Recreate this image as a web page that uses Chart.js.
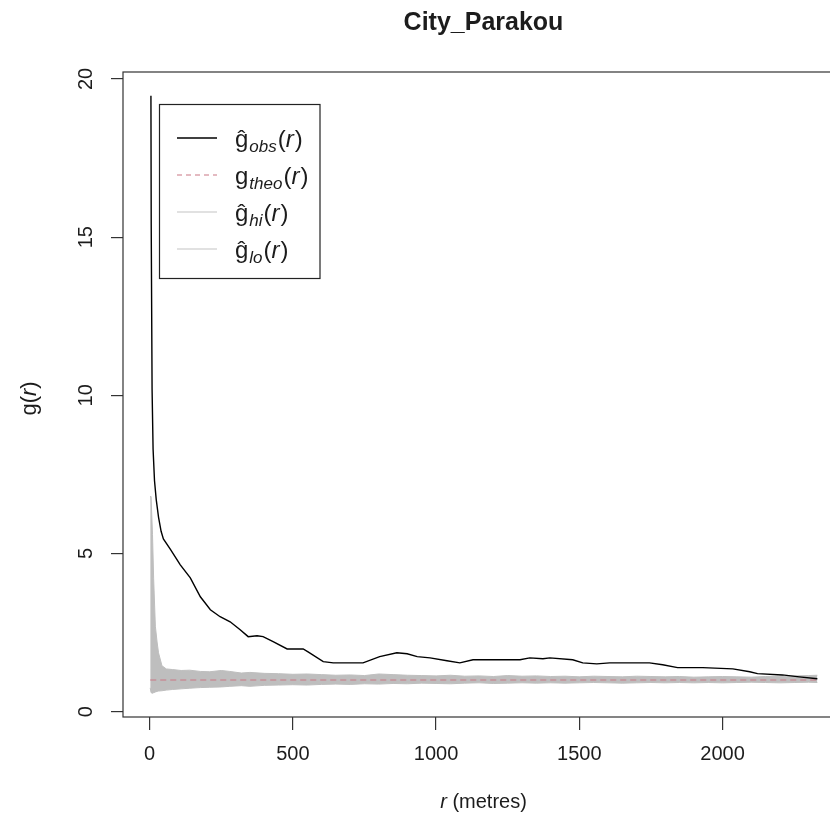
<!DOCTYPE html>
<html>
<head>
<meta charset="utf-8">
<title>City_Parakou</title>
<script src="https://cdn.jsdelivr.net/npm/chart.js@4.4.1/dist/chart.umd.min.js"></script>
<style>
  html, body { margin: 0; padding: 0; background: #fff; overflow: hidden; }
  #wrap { width: 860px; height: 819px; }
</style>
</head>
<body>
<div id="wrap"><canvas id="gChart" width="860" height="819"></canvas></div>
<script>
// pair correlation function g(r), observed vs. envelope
const chartTitle = 'City_Parakou';

const obsR = [4.5, 5.5, 8.5, 12, 17, 23, 31, 40, 48, 72, 107, 142, 177, 212, 246, 281, 316, 344, 375, 396,
  431, 480, 536, 553, 606, 641, 700, 745, 803, 863, 899, 934, 979, 1038, 1083, 1129, 1293, 1327, 1373, 1397,
  1477, 1512, 1561, 1606, 1745, 1791, 1843, 1931, 2036, 2095, 2122, 2209, 2268, 2331];
const obsG = [19.47, 15.4, 10.2, 8.3, 7.3, 6.7, 6.15, 5.7, 5.46, 5.14, 4.64, 4.23, 3.63, 3.22, 3.0, 2.84, 2.59, 2.37, 2.40, 2.37,
  2.21, 1.98, 1.98, 1.89, 1.58, 1.54, 1.54, 1.54, 1.74, 1.86, 1.83, 1.74, 1.70, 1.61, 1.54, 1.64, 1.64, 1.70, 1.67, 1.70,
  1.64, 1.54, 1.51, 1.54, 1.54, 1.48, 1.39, 1.39, 1.35, 1.26, 1.20, 1.16, 1.10, 1.04];

const theoR = [2, 2331];
const theoG = [1, 1];

const envR = [2, 5, 10, 14, 20, 26, 31, 43, 58, 80, 110, 140, 177, 210, 250, 280, 320, 350, 400, 450,
  500, 550, 600, 650, 700, 750, 800, 850, 900, 950, 1000, 1050, 1100, 1150, 1200, 1250, 1300, 1350, 1400, 1450,
  1500, 1550, 1600, 1650, 1700, 1750, 1800, 1850, 1900, 1950, 2000, 2050, 2100, 2150, 2200, 2250, 2300, 2331];
const envHi = [6.8, 6.8, 5.6, 4.2, 2.7, 2.2, 1.86, 1.45, 1.35, 1.33, 1.30, 1.31, 1.27, 1.26, 1.30, 1.27, 1.22, 1.24, 1.21, 1.20,
  1.18, 1.19, 1.17, 1.15, 1.16, 1.14, 1.19, 1.17, 1.15, 1.14, 1.13, 1.15, 1.12, 1.13, 1.11, 1.14, 1.12, 1.13, 1.11, 1.12,
  1.10, 1.12, 1.11, 1.10, 1.12, 1.11, 1.10, 1.11, 1.09, 1.10, 1.11, 1.10, 1.09, 1.11, 1.12, 1.13, 1.14, 1.15];
const envLo = [0.75, 0.60, 0.58, 0.60, 0.62, 0.64, 0.65, 0.66, 0.68, 0.70, 0.72, 0.74, 0.76, 0.77, 0.78, 0.80, 0.82, 0.80, 0.83, 0.84,
  0.85, 0.84, 0.86, 0.87, 0.86, 0.88, 0.87, 0.89, 0.88, 0.90, 0.89, 0.88, 0.90, 0.91, 0.89, 0.90, 0.91, 0.90, 0.91, 0.90,
  0.91, 0.92, 0.91, 0.90, 0.91, 0.92, 0.91, 0.92, 0.91, 0.92, 0.91, 0.92, 0.93, 0.92, 0.91, 0.92, 0.93, 0.92];

const xTicks = [0, 500, 1000, 1500, 2000];
const yTicks = [0, 5, 10, 15, 20];
const xLabel = ['r', ' (metres)'];
const yLabel = ['g', '(', 'r', ')'];

// legend rows: main symbol, subscript, line colour, dashed?
const legendMain = ['\u011D', 'g', '\u011D', '\u011D'];
const legendSub = ['obs', 'theo', 'hi', 'lo'];
const legendColor = ['#000000', '#c97683', '#c4c4c4', '#c4c4c4'];
const legendDash = [false, true, false, false];

const FONT = '"Liberation Sans", Arial, Helvetica, sans-serif';
const TEXT = '#1c1c1c';
const BAND = '#bebebe';

const zip = (xs, ys) => xs.map((x, i) => ({ x: x, y: ys[i] }));

// draw a run of text pieces with their own fonts, centred on x
function drawRuns(ctx, runs, x, y) {
  let total = 0;
  runs.forEach(r => { ctx.font = r.font; total += ctx.measureText(r.text).width; });
  let cx = x - total / 2;
  runs.forEach(r => {
    ctx.font = r.font;
    ctx.fillText(r.text, cx, y + (r.dy || 0));
    cx += ctx.measureText(r.text).width;
  });
}

const framePlugin = {
  id: 'framePlugin',
  afterDraw(chart) {
    const ctx = chart.ctx;
    const a = chart.chartArea;
    const yScale = chart.scales.y;
    ctx.save();

    // plot box
    ctx.strokeStyle = '#333';
    ctx.lineWidth = 1.2;
    ctx.strokeRect(a.left, a.top, a.right - a.left, a.bottom - a.top);

    ctx.fillStyle = TEXT;
    ctx.textBaseline = 'middle';
    ctx.textAlign = 'center';

    // title
    ctx.font = 'bold 25px ' + FONT;
    ctx.fillText(chartTitle, (a.left + a.right) / 2, 23);

    // y tick labels, rotated like base R
    ctx.font = '20px ' + FONT;
    yTicks.forEach(v => {
      const py = yScale.getPixelForValue(v);
      ctx.save();
      ctx.translate(86, py);
      ctx.rotate(-Math.PI / 2);
      ctx.fillText(String(v), 0, 0);
      ctx.restore();
    });

    ctx.textAlign = 'left';
    ctx.textBaseline = 'alphabetic';

    // y axis title g(r)
    ctx.save();
    ctx.translate(36, (a.top + a.bottom) / 2 + 4);
    ctx.rotate(-Math.PI / 2);
    drawRuns(ctx, [
      { text: yLabel[0], font: '22px ' + FONT },
      { text: yLabel[1], font: '22px ' + FONT },
      { text: yLabel[2], font: 'italic 22px ' + FONT },
      { text: yLabel[3], font: '22px ' + FONT }
    ], 0, 0);
    ctx.restore();

    // x axis title r (metres)
    drawRuns(ctx, [
      { text: xLabel[0], font: 'italic 20px ' + FONT },
      { text: xLabel[1], font: '20px ' + FONT }
    ], (a.left + a.right) / 2, 808);

    // legend
    const lx = 159.5, ly = 104.5, lw = 160.5, lh = 174;
    ctx.fillStyle = '#fff';
    ctx.fillRect(lx, ly, lw, lh);
    ctx.strokeStyle = '#222';
    ctx.lineWidth = 1.2;
    ctx.strokeRect(lx, ly, lw, lh);
    legendSub.forEach((sub, i) => {
      const rowY = 138 + i * 37;
      ctx.strokeStyle = legendColor[i];
      ctx.lineWidth = i === 0 ? 1.4 : 1.2;
      ctx.setLineDash(legendDash[i] ? [5, 4] : []);
      ctx.beginPath();
      ctx.moveTo(177, rowY);
      ctx.lineTo(217, rowY);
      ctx.stroke();
      ctx.setLineDash([]);

      ctx.fillStyle = TEXT;
      let cx = 235;
      const base = rowY + 9;
      ctx.font = '24px ' + FONT;
      ctx.fillText(legendMain[i], cx, base);
      cx += ctx.measureText(legendMain[i]).width + 1;
      ctx.font = 'italic 17px ' + FONT;
      ctx.fillText(sub, cx, base + 5);
      cx += ctx.measureText(sub).width + 1;
      ctx.font = '24px ' + FONT;
      ctx.fillText('(', cx, base);
      cx += ctx.measureText('(').width;
      ctx.font = 'italic 24px ' + FONT;
      ctx.fillText('r', cx, base);
      cx += ctx.measureText('r').width + 1;
      ctx.font = '24px ' + FONT;
      ctx.fillText(')', cx, base);
    });

    ctx.restore();
  }
};

new Chart(document.getElementById('gChart').getContext('2d'), {
  type: 'line',
  data: {
    datasets: [
      {
        label: 'obs',
        data: zip(obsR, obsG),
        borderColor: '#000',
        borderWidth: 1.4,
        pointRadius: 0,
        tension: 0,
        fill: false,
        order: 0
      },
      {
        label: 'theo',
        data: zip(theoR, theoG),
        borderColor: '#c97683',
        borderWidth: 1.2,
        borderDash: [6, 4],
        pointRadius: 0,
        fill: false,
        order: 1
      },
      {
        label: 'hi',
        data: zip(envR, envHi),
        borderColor: BAND,
        borderWidth: 1,
        pointRadius: 0,
        tension: 0,
        fill: false,
        order: 2
      },
      {
        label: 'lo',
        data: zip(envR, envLo),
        borderColor: BAND,
        backgroundColor: BAND,
        borderWidth: 1,
        pointRadius: 0,
        tension: 0,
        fill: '-1',
        order: 3
      }
    ]
  },
  options: {
    responsive: false,
    animation: false,
    devicePixelRatio: 1,
    layout: { padding: { top: 72, right: 16, left: 0, bottom: 0 } },
    plugins: {
      legend: { display: false },
      title: { display: false },
      tooltip: { enabled: false }
    },
    scales: {
      x: {
        type: 'linear',
        min: -93,
        max: 2424,
        afterBuildTicks: s => { s.ticks = xTicks.map(v => ({ value: v })); },
        afterFit: s => { s.height = 102; },
        border: { display: false },
        grid: { drawOnChartArea: false, drawTicks: true, tickLength: 13, color: '#333', lineWidth: 1.2 },
        ticks: {
          color: TEXT,
          font: { family: FONT, size: 20 },
          padding: 12,
          maxRotation: 0,
          autoSkip: false,
          callback: v => String(v)
        }
      },
      y: {
        type: 'linear',
        min: -0.17,
        max: 20.22,
        afterBuildTicks: s => { s.ticks = yTicks.map(v => ({ value: v })); },
        afterFit: s => { s.width = 123; },
        border: { display: false },
        grid: { drawOnChartArea: false, drawTicks: true, tickLength: 12, color: '#333', lineWidth: 1.2 },
        ticks: { display: false }
      }
    }
  },
  plugins: [framePlugin]
});
</script>
</body>
</html>
